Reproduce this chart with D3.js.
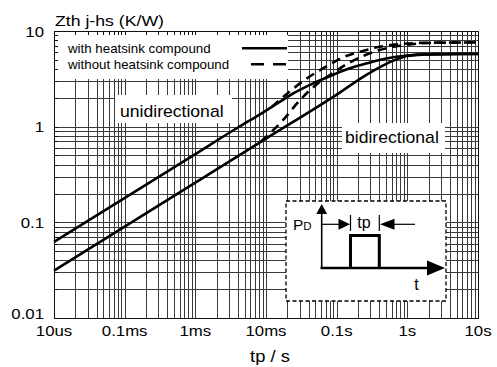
<!DOCTYPE html>
<html>
<head>
<meta charset="utf-8">
<script src="https://cdn.jsdelivr.net/npm/d3@7"></script>
<style>
  body { margin: 0; background: #fff; }
  text { font-family: "Liberation Sans", Arial, sans-serif; fill: #000; }
</style>
</head>
<body>
<div id="chart"></div>
<script>
(function () {
    // Axis ticks
    const xTickValues = [1e-5, 1e-4, 1e-3, 1e-2, 1e-1, 1, 10];
    const xTickLabels = ["10us", "0.1ms", "1ms", "10ms", "0.1s", "1s", "10s"];
    const yTickValues = [0.01, 0.1, 1, 10];
    const yTickLabels = ["0.01", "0.1", "1", "10"];

    // Curves (tp in s, Zth in K/W)
    const uniWithT = [1e-5, 1e-3, 0.004, 0.008, 0.015, 0.025, 0.045, 0.075, 0.15, 0.27, 0.5, 1, 2, 10];
    const uniWithZ = [0.0626, 0.516, 0.98, 1.33, 1.78, 2.25, 2.8, 3.3, 4.05, 4.6, 5.15, 5.55, 5.7, 5.75];
    const biWithT = [1e-5, 1e-3, 0.01, 0.1, 0.25, 0.45, 0.7, 1, 2, 10];
    const biWithZ = [0.0312, 0.26, 0.75, 2.16, 3.4, 4.35, 5.05, 5.5, 5.7, 5.75];
    const uniWithoutT = [0.012, 0.0219, 0.038, 0.073, 0.13, 0.22, 0.37, 0.65, 1, 2, 10];
    const uniWithoutZ = [1.6, 2.35, 3.2, 4.3, 5.4, 6.1, 6.75, 7.2, 7.4, 7.55, 7.6];
    const biWithoutT = [0.0085, 0.0174, 0.0303, 0.053, 0.08, 0.154, 0.37, 1, 2, 10];
    const biWithoutZ = [0.7, 1.17, 1.9, 2.8, 3.46, 4.7, 6.2, 7.2, 7.5, 7.6];

    const legendLabels = ["with heatsink compound", "without heatsink compound"];

    const W = 497, H = 367;
    const plot = { left: 54, right: 478, top: 31, bottom: 318 };

    const svg = d3.select("#chart").append("svg")
        .attr("width", W)
        .attr("height", H);

    const x = d3.scaleLog().domain([1e-5, 10]).range([plot.left, plot.right]);
    const y = d3.scaleLog().domain([0.01, 10]).range([plot.bottom, plot.top]);

    // text helper, the original lettering is a bit wider than Arial
    function label(g, px, py, s, size, sx, anchor) {
        return g.append("text")
            .attr("transform", `translate(${px},${py}) scale(${sx},1)`)
            .attr("text-anchor", anchor || "start")
            .attr("font-size", size)
            .text(s);
    }

    // Grid
    const grid = svg.append("g")
        .attr("stroke", "#3a3a3a")
        .attr("stroke-width", 1)
        .attr("shape-rendering", "crispEdges");
    grid.selectAll(".vx").data(x.ticks()).enter().append("line")
        .attr("x1", d => Math.round(x(d)) + 0.5).attr("x2", d => Math.round(x(d)) + 0.5)
        .attr("y1", plot.top).attr("y2", plot.bottom);
    grid.selectAll(".hy").data(y.ticks()).enter().append("line")
        .attr("y1", d => Math.round(y(d)) + 0.5).attr("y2", d => Math.round(y(d)) + 0.5)
        .attr("x1", plot.left).attr("x2", plot.right);

    // White boxes behind legend and labels
    svg.append("rect").attr("x", 55).attr("y", 32).attr("width", 233).attr("height", 47).attr("fill", "#fff");
    svg.append("rect").attr("x", 115).attr("y", 95).attr("width", 117).attr("height", 28).attr("fill", "#fff");
    svg.append("rect").attr("x", 342).attr("y", 123).attr("width", 103).attr("height", 30).attr("fill", "#fff");

    // Frame and short ticks along top and left border
    svg.append("rect")
        .attr("x", plot.left + 0.5).attr("y", plot.top + 0.5)
        .attr("width", plot.right - plot.left).attr("height", plot.bottom - plot.top)
        .attr("fill", "none").attr("stroke", "#111").attr("stroke-width", 1)
        .attr("shape-rendering", "crispEdges");
    const stubs = svg.append("g").attr("stroke", "#111").attr("shape-rendering", "crispEdges");
    stubs.selectAll(".tx").data(x.ticks()).enter().append("line")
        .attr("x1", d => Math.round(x(d)) + 0.5).attr("x2", d => Math.round(x(d)) + 0.5)
        .attr("y1", plot.top).attr("y2", plot.top + 4);
    stubs.selectAll(".ty").data(y.ticks()).enter().append("line")
        .attr("y1", d => Math.round(y(d)) + 0.5).attr("y2", d => Math.round(y(d)) + 0.5)
        .attr("x1", plot.left).attr("x2", plot.left + 4);

    // Curves
    const line = d3.line()
        .x(d => x(d[0]))
        .y(d => y(d[1]))
        .curve(d3.curveMonotoneX);
    const series = [
        { t: uniWithT, z: uniWithZ, dash: null },
        { t: biWithT, z: biWithZ, dash: null },
        { t: uniWithoutT, z: uniWithoutZ, dash: "9,6" },
        { t: biWithoutT, z: biWithoutZ, dash: "9,6" }
    ];
    series.forEach(s => {
        svg.append("path")
            .datum(d3.zip(s.t, s.z))
            .attr("d", line)
            .attr("fill", "none")
            .attr("stroke", "#000")
            .attr("stroke-width", 2.6)
            .attr("stroke-dasharray", s.dash);
    });

    // Legend
    label(svg, 68, 53.3, legendLabels[0], 13.3, 1, "start");
    label(svg, 68, 69, legendLabels[1], 13.3, 1, "start");
    svg.append("line").attr("x1", 242).attr("x2", 287).attr("y1", 48.3).attr("y2", 48.3)
        .attr("stroke", "#000").attr("stroke-width", 2.6);
    svg.append("line").attr("x1", 251).attr("x2", 287).attr("y1", 64.3).attr("y2", 64.3)
        .attr("stroke", "#000").attr("stroke-width", 2.6).attr("stroke-dasharray", "13,9");

    // Curve group labels
    label(svg, 120, 117, "unidirectional", 16, 1.1, "start");
    label(svg, 345, 143.3, "bidirectional", 16, 1.1, "start");

    // Title and axis labels
    label(svg, 55, 25.5, "Zth j-hs (K/W)", 14.5, 1.22, "start");
    label(svg, 270, 362, "tp / s", 16, 1.15, "middle");

    xTickValues.forEach((v, i) => {
        label(svg, x(v), 336, xTickLabels[i], 15, 1.12, "middle");
    });
    yTickValues.forEach((v, i) => {
        label(svg, 44, Math.min(y(v) + 5.5, plot.bottom + 0.5), yTickLabels[i], 15, 1.12, "end");
    });

    // Inset pulse sketch
    const inset = svg.append("g");
    inset.append("rect")
        .attr("x", 286).attr("y", 201).attr("width", 160).attr("height", 100)
        .attr("fill", "#fff").attr("stroke", "#000").attr("stroke-width", 1.3)
        .attr("stroke-dasharray", "4,2.5");
    // axes
    inset.append("line").attr("x1", 321.7).attr("x2", 321.7).attr("y1", 268).attr("y2", 212)
        .attr("stroke", "#000").attr("stroke-width", 1.6);
    inset.append("path").attr("d", "M321.7,204 L316.3,214 L327.1,214 Z").attr("fill", "#000");
    inset.append("line").attr("x1", 320.5).attr("x2", 428).attr("y1", 268).attr("y2", 268)
        .attr("stroke", "#000").attr("stroke-width", 2.6);
    inset.append("path").attr("d", "M445,268 L427,260.5 L427,275.5 Z").attr("fill", "#000");
    // pulse
    inset.append("path").attr("d", "M350.5,268 L350.5,235.5 L379.3,235.5 L379.3,268")
        .attr("fill", "none").attr("stroke", "#000").attr("stroke-width", 3);
    // dimension markers
    inset.append("line").attr("x1", 350.5).attr("x2", 350.5).attr("y1", 215).attr("y2", 231)
        .attr("stroke", "#000").attr("stroke-width", 1.2);
    inset.append("line").attr("x1", 379.3).attr("x2", 379.3).attr("y1", 215).attr("y2", 231)
        .attr("stroke", "#000").attr("stroke-width", 1.2);
    inset.append("line").attr("x1", 321.7).attr("x2", 340).attr("y1", 224.3).attr("y2", 224.3)
        .attr("stroke", "#000").attr("stroke-width", 1.2);
    inset.append("path").attr("d", "M350,224.3 L338.5,218.8 L338.5,229.8 Z").attr("fill", "#000");
    inset.append("line").attr("x1", 390).attr("x2", 415).attr("y1", 224.3).attr("y2", 224.3)
        .attr("stroke", "#000").attr("stroke-width", 1.2);
    inset.append("path").attr("d", "M380,224.3 L394.5,218.8 L394.5,229.8 Z").attr("fill", "#000");
    // inset texts
    const pd = inset.append("text")
        .attr("transform", "translate(293,229.5)")
        .attr("font-size", 15.5);
    pd.append("tspan").text("P");
    pd.append("tspan").attr("font-size", 11.5).text("D");
    label(inset, 357.3, 227.5, "tp", 16, 1, "start");
    label(inset, 414.3, 289.5, "t", 16, 1, "start");
})();
</script>
</body>
</html>
